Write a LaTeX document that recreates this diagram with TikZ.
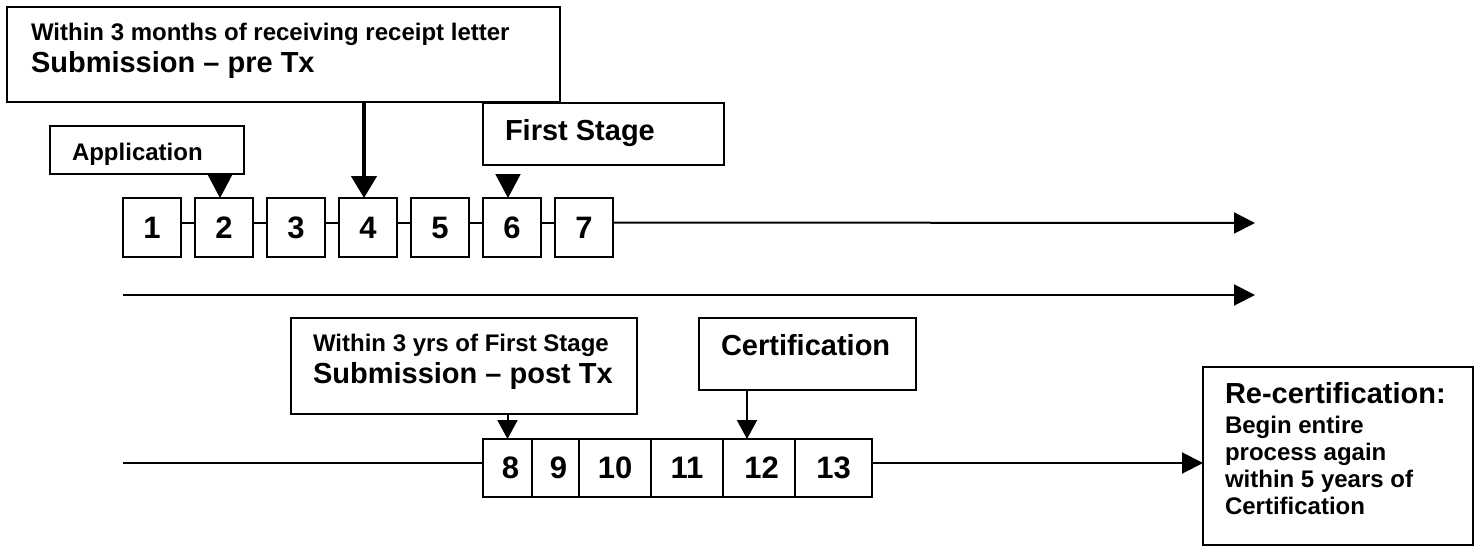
\documentclass[tikz,border=0pt]{standalone}
\usepackage{fontspec}
\setmainfont{Liberation Sans}
\usetikzlibrary{arrows.meta,calc}
\begin{document}
\begin{tikzpicture}[x=1pt,y=-1pt,line width=2pt,
  box/.style={draw,line width=2pt,inner sep=0pt,outer sep=0pt,anchor=north west,fill=white},
  numbox/.style={box,minimum width=58pt,minimum height=59pt,font=\bfseries\fontsize{31}{35}\selectfont},
  txt/.style={anchor=base west,inner sep=0pt,font=\bfseries\fontsize{24}{28}\selectfont},
  bigtxt/.style={anchor=base west,inner sep=0pt,font=\bfseries\fontsize{29}{33}\selectfont},
  tri/.style={-{Triangle[length=24pt,width=25pt]}},
  tris/.style={-{Triangle[length=19pt,width=20pt]}},
  trir/.style={-{Triangle[length=21pt,width=21pt]}},
  thickarrow/.style={line width=4.5pt,-{Triangle[length=22pt,width=25pt]}}]
\useasboundingbox (0,0) rectangle (1478,546);

% top section boxes
\node[box,minimum width=553pt,minimum height=95pt] (top) at (7,7) {};
\node[box,minimum width=241pt,minimum height=62pt] (fs) at (483,103) {};
\node[box,minimum width=194pt,minimum height=48pt] (app) at (50,126) {};
\node[txt] (toptxt1) at (30,40) {Within 3 months of receiving receipt letter};
\node[bigtxt] (toptxt2) at (30,72) {Submission – pre Tx};
\node[bigtxt] (fstxt) at (504,140) {First Stage};
\node[txt] (apptxt) at (71,160) {Application};

% row 1
\foreach \i in {1,...,7}{
  \node[numbox] (b\i) at ({123+72*(\i-1)},198) {\i};
}
\foreach \i/\j in {1/2,2/3,3/4,4/5,5/6,6/7}{
  \draw ([yshift=5pt]b\i.east) -- ([yshift=5pt]b\j.west);
}
\coordinate (endA) at (1255,223);
\draw[trir] ([yshift=5pt]b7.east) -- (endA);

% arrows into row 1
\coordinate (a2) at ([xshift=-4pt]b2.north);
\coordinate (a4) at ([xshift=-4pt]b4.north);
\coordinate (a6) at ([xshift=-4pt]b6.north);
\coordinate (a6t) at (508,174);
\draw[tri] (a2 |- app.south) -- (a2);
\draw[thickarrow] (a4 |- top.south) -- (a4);
\draw[tri] (a6t) -- (a6);

% middle line
\coordinate (l2s) at (123,295);
\coordinate (l2e) at (1255,295);
\draw[trir] (l2s) -- (l2e);

% bottom section boxes
\node[box,minimum width=346pt,minimum height=96pt] (within) at (291,318) {};
\node[box,minimum width=217pt,minimum height=72pt] (cert) at (699,318) {};
\node[box,minimum width=270pt,minimum height=178pt] (recert) at (1203,367) {};
\node[txt] (wtxt1) at (312,351) {Within 3 yrs of First Stage};
\node[bigtxt] (wtxt2) at (312,383) {Submission – post Tx};
\node[bigtxt] (certtxt) at (720,355) {Certification};
\node[bigtxt] (rtxt1) at (1224,403) {Re-certification:};
\node[txt] (rtxt2) at (1224,433) {Begin entire};
\node[txt] (rtxt3) at (1224,460) {process again};
\node[txt] (rtxt4) at (1224,487) {within 5 years of};
\node[txt] (rtxt5) at (1224,514) {Certification};

% row 2
\node[numbox,minimum width=49pt,minimum height=58pt] (c8) at (483,439) {\hspace{6pt}8};
\node[numbox,minimum width=47pt,minimum height=58pt] (c9) at (532,439) {\hspace{6pt}9};
\node[numbox,minimum width=72pt,minimum height=58pt] (c10) at (579,439) {10};
\node[numbox,minimum width=72pt,minimum height=58pt] (c11) at (651,439) {11};
\node[numbox,minimum width=72pt,minimum height=58pt] (c12) at (723,439) {\hspace{5pt}12};
\node[numbox,minimum width=77pt,minimum height=58pt] (c13) at (795,439) {13};

\coordinate (l3s) at (123,463);
\draw (l3s) -- ([yshift=5pt]c8.west);
\draw[trir] ([yshift=5pt]c13.east) -- (recert.west |- l3s);

\coordinate (a8) at (c8.north);
\coordinate (a12) at ([xshift=-12pt]c12.north);
\draw[tris] (a8 |- within.south) -- (a8);
\draw[tris] (a12 |- cert.south) -- (a12);
\end{tikzpicture}
\end{document}
